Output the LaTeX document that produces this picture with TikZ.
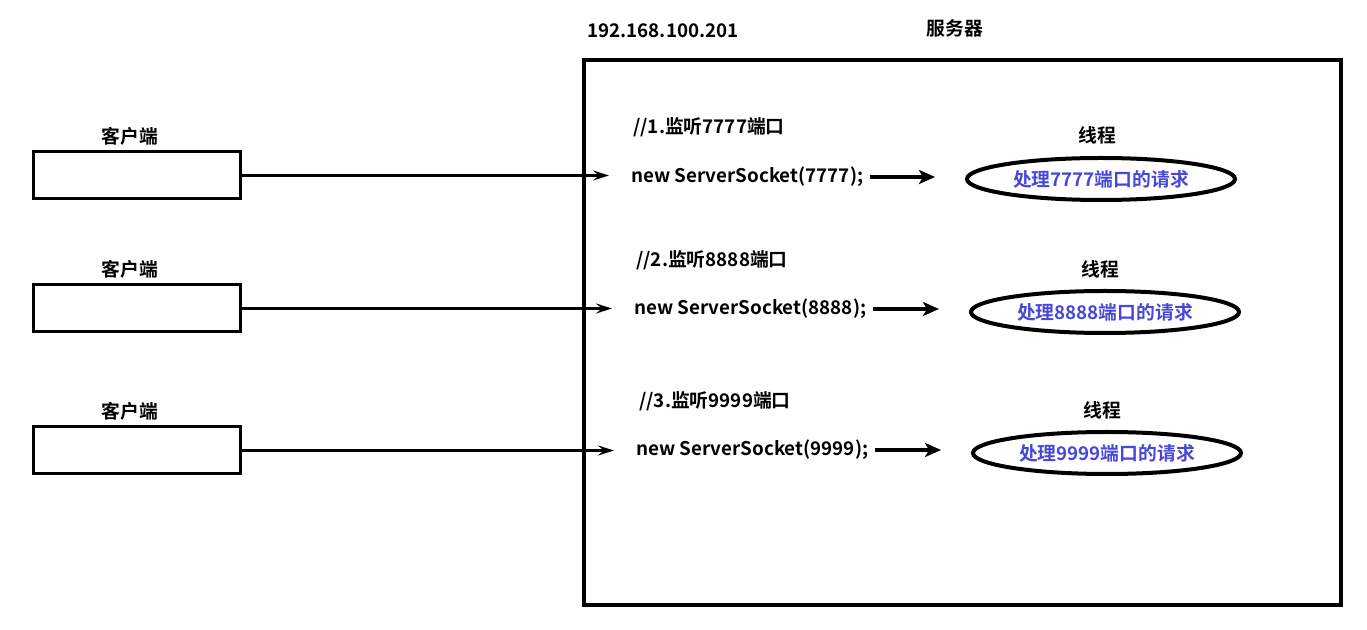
\documentclass[tikz,border=0pt]{standalone}
\usepackage{fontspec}
\setmainfont{Noto Sans CJK SC}[BoldFont={Noto Sans CJK SC Bold}]
\usetikzlibrary{arrows.meta,positioning,shapes.geometric}
\definecolor{threadblue}{RGB}{72,72,216}

\begin{document}
\begin{tikzpicture}[x=0.5pt,y=-0.5pt]

\tikzset{line/.style={draw,line width=1.1pt}}
\tikzset{arrow/.style={line,-{Stealth[length=8pt,width=5pt,inset=3pt]},shorten >=11pt}}
\tikzset{bigarrow/.style={draw,line width=2pt,-{Stealth[length=8pt,width=7pt,inset=2pt]},shorten <=3pt,shorten >=15pt}}
\tikzset{textnode/.style={inner sep=0pt,font=\fontsize{9.4pt}{11pt}\selectfont\bfseries}}
\tikzset{client/.style={draw,line width=1.5pt,rectangle,minimum width=103.5pt,minimum height=23.5pt,inner sep=0pt}}
\tikzset{server/.style={draw,line width=2pt,rectangle,minimum width=378.5pt,minimum height=272.5pt,inner sep=0pt}}
\tikzset{thread/.style={draw,line width=2pt,ellipse,minimum width=134pt,minimum height=21pt,inner sep=0pt,textnode,text=threadblue}}

\useasboundingbox (0,0) rectangle (1367,630);

% server
\node[server] (server) at (962.5,332.5) {};
\node[textnode] (ip) at (663,31) {192.168.100.201};
\node[textnode] (servername) at (955,28) {服务器};

% clients
\node[client] (client1) at (136.5,175.5) {};
\node[client] (client2) at (136.5,308.5) {};
\node[client] (client3) at (136.5,450.5) {};
\node[textnode] (clabel1) at (130,136) {客户端};
\node[textnode] (clabel2) at (130,269) {客户端};
\node[textnode] (clabel3) at (130,411) {客户端};

% sockets
\node[textnode,anchor=west] (comment1) at (633,127) {//1.监听7777端口};
\node[textnode,anchor=west] (comment2) at (636,260) {//2.监听8888端口};
\node[textnode,anchor=west] (comment3) at (639,401) {//3.监听9999端口};
\node[textnode,anchor=west] (socket1) at (631,177) {new ServerSocket(7777);};
\node[textnode,anchor=west] (socket2) at (634,309) {new ServerSocket(8888);};
\node[textnode,anchor=west] (socket3) at (636,450) {new ServerSocket(9999);};

% threads
\node[thread] (thread1) at (1101,179) {处理7777端口的请求};
\node[thread] (thread2) at (1105,312) {处理8888端口的请求};
\node[thread] (thread3) at (1107,453) {处理9999端口的请求};
\node[textnode] (tlabel1) at (1097,135) {线程};
\node[textnode] (tlabel2) at (1100,269) {线程};
\node[textnode] (tlabel3) at (1102,410) {线程};

\path[arrow] (client1.east) -- (client1.east -| socket1.west);
\path[arrow] (client2.east) -- (client2.east -| socket2.west);
\path[arrow] (client3.east) -- (client3.east -| socket3.west);

\path[bigarrow] (socket1.east) -- (socket1.east -| thread1.west);
\path[bigarrow] (socket2.east) -- (socket2.east -| thread2.west);
\path[bigarrow] (socket3.east) -- (socket3.east -| thread3.west);

\end{tikzpicture}
\end{document}
